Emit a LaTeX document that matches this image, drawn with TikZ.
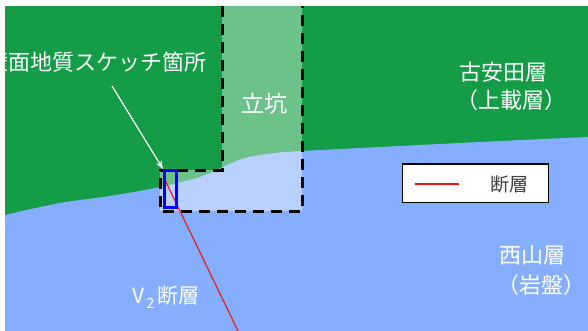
\documentclass[tikz,border=0pt]{standalone}
\usepackage{fontspec}
\setmainfont{Noto Sans CJK JP}
\usepackage{tikz}
\usetikzlibrary{arrows.meta,positioning,calc}
\usepackage{xcolor}
\definecolor{coverg}{HTML}{149C46}
\definecolor{rockb}{HTML}{86AEFE}
\definecolor{lightcover}{HTML}{6DC18B}
\definecolor{lightrock}{HTML}{B9CFFC}
\definecolor{faultred}{HTML}{F01010}
\definecolor{legendtext}{HTML}{404040}

\tikzset{
  contact/.style={insert path={-- plot[smooth, tension=0.55] coordinates {(5,215) (60,203) (110,196) (160,187) (200,177) (225,166) (245,158) (275,153) (302,151) (400,146) (500,141) (588,137)}}},
  shaftline/.style={line width=3pt, dash pattern=on 11pt off 7pt, line join=miter},
  jp/.style={text=white, inner sep=0pt, font=\fontsize{#1}{#1}\selectfont},
}

\begin{document}
\begin{tikzpicture}[x=1pt, y=-1pt, >=Stealth]
  \useasboundingbox (0,0) rectangle (588,331);

  % Ground: cover layer over bedrock
  \fill[coverg] (5,6) rectangle (588,331);
  \fill[rockb] (5,331) [contact] -- (588,331) -- cycle;

  % Shaft opening
  \begin{scope}
    \clip (222,6) -- (222,170) -- (160,170) -- (160,211) -- (302,211) -- (302,6) -- cycle;
    \fill[lightcover] (150,0) rectangle (310,220);
    \fill[lightrock] (5,331) [contact] -- (588,331) -- cycle;
  \end{scope}
  \draw[shaftline] (222,6) -- (222,170) -- (160,170) -- (160,211) -- (302,211) -- (302,6);

  % Fault V2
  \draw[faultred, line width=1.1pt] (165,180) -- (240,335);

  % Sketch area
  \node[draw=blue, line width=3pt, inner sep=0pt, minimum width=12pt, minimum height=37pt] (sketch) at (170.5,189) {};

  % Labels
  \node[jp=22, anchor=east] (sketchlbl) at (207,62) {壁面地質スケッチ箇所};
  \coordinate (arrowtail) at (112,86);
  \draw[->, white, line width=1.2pt] (arrowtail) -- (sketch.north west);

  \node[jp=23] (shaftlbl) at (264,104) {立坑};
  \node[jp=22] (coverlbl) at (503,72) {古安田層};
  \node[jp=22] (covernote) at (511,100) {（上載層）};
  \node[jp=22] (rocklbl) at (532,255) {西山層};
  \node[jp=22] (rocknote) at (541,285) {（岩盤）};
  \node[jp=21, anchor=west] (faultlbl) at (132,297) {V\raisebox{-5pt}{\fontsize{14}{14}\selectfont\,2}\,断層};

  % Legend
  \node[draw=black, fill=white, line width=1pt, minimum width=146pt, minimum height=38pt] (legend) at (475,183) {};
  \draw[faultred, line width=1.1pt] (415,184) -- (459,184);
  \node[jp=19, text=legendtext] (legendlbl) at (509,184) {断層};
\end{tikzpicture}
\end{document}
